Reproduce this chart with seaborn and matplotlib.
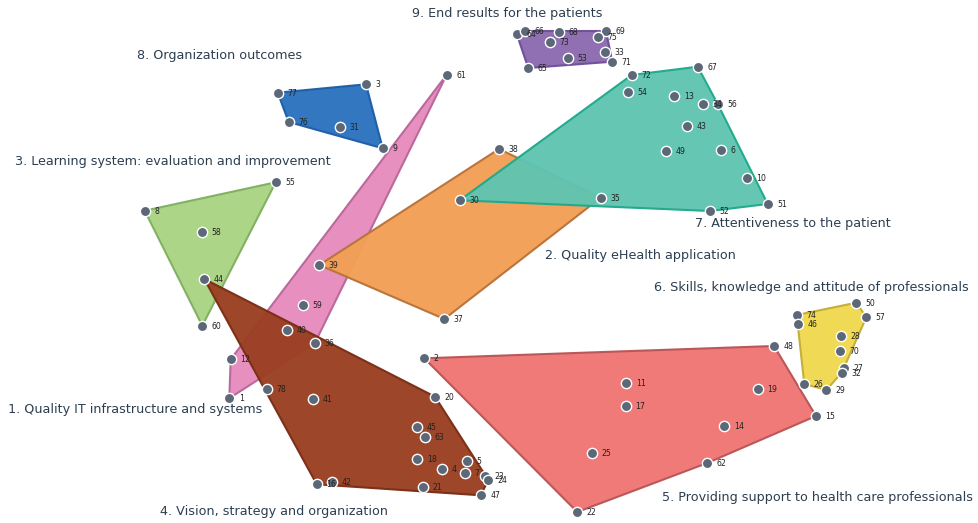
import numpy as np
import pandas as pd
import seaborn as sns
import matplotlib.pyplot as plt
from matplotlib.patches import Polygon

# coordenadas de cada enunciado (espacio de la imagen, y hacia abajo)
ids_c1 = [61, 59, 40, 36, 12, 1]
x_c1 = [446.7, 302.7, 287.0, 314.7, 230.7, 229.3]
y_c1 = [74.7, 304.7, 330.0, 343.3, 359.3, 398.3]

ids_c2 = [38, 35, 37, 39]
x_c2 = [499.0, 600.7, 444.3, 319.3]
y_c2 = [149.0, 197.7, 319.0, 265.0]

ids_c3 = [8, 55, 58, 60]
x_c3 = [144.7, 275.7, 202.3, 202.3]
y_c3 = [210.7, 182.3, 232.0, 325.7]

ids_c4 = [44, 78, 41, 20, 45, 63, 18, 4, 5, 7, 23, 24, 47, 21, 42, 16]
x_c4 = [204.3, 266.7, 312.7, 435.0, 417.3, 424.7, 417.3, 441.7, 466.7, 464.7, 485.0, 488.3, 480.7, 422.7, 332.0, 316.7]
y_c4 = [279.0, 389.0, 399.3, 396.7, 426.7, 436.7, 459.0, 469.3, 461.3, 472.7, 475.7, 480.0, 495.3, 487.3, 481.7, 484.3]

ids_c5 = [2, 48, 11, 17, 19, 15, 14, 25, 62, 22]
x_c5 = [424.3, 774.0, 626.3, 625.7, 758.0, 816.0, 724.3, 592.0, 707.3, 577.3]
y_c5 = [358.3, 346.0, 382.7, 406.0, 389.3, 416.0, 426.3, 452.7, 463.0, 512.0]

ids_c6 = [50, 57, 74, 46, 28, 70, 27, 32, 26, 29]
x_c6 = [856.3, 866.3, 796.7, 798.0, 841.0, 840.3, 843.7, 841.7, 804.3, 826.3]
y_c6 = [302.7, 317.3, 315.0, 324.0, 336.3, 350.7, 368.3, 372.7, 384.0, 390.0]

ids_c7 = [72, 67, 54, 13, 34, 56, 43, 49, 6, 10, 51, 52, 30]
x_c7 = [631.7, 697.7, 628.0, 674.3, 703.0, 717.7, 686.7, 666.3, 721.0, 747.0, 767.7, 710.0, 459.7]
y_c7 = [75.0, 66.7, 92.3, 96.0, 104.0, 104.0, 125.7, 151.3, 149.7, 178.3, 204.0, 211.0, 200.3]

ids_c8 = [77, 3, 76, 31, 9]
x_c8 = [277.7, 366.0, 288.7, 339.7, 382.7]
y_c8 = [92.7, 84.3, 122.0, 126.7, 148.3]

ids_c9 = [64, 66, 68, 69, 75, 73, 33, 53, 71, 65]
x_c9 = [516.7, 525.0, 559.0, 606.0, 597.7, 550.0, 605.0, 568.3, 612.3, 528.3]
y_c9 = [34.0, 31.0, 31.7, 31.0, 37.3, 42.3, 52.3, 57.7, 61.7, 68.0]

nombres = {
    1: "1. Quality IT infrastructure and systems",
    2: "2. Quality eHealth application",
    3: "3. Learning system: evaluation and improvement",
    4: "4. Vision, strategy and organization",
    5: "5. Providing support to health care professionals",
    6: "6. Skills, knowledge and attitude of professionals",
    7: "7. Attentiveness to the patient",
    8: "8. Organization outcomes",
    9: "9. End results for the patients",
}

# posicion (izquierda, centro vertical) de cada titulo de cluster
pos_nombre = {1: (8, 409), 2: (545, 255), 3: (15, 162), 4: (160, 512), 5: (662, 497),
              6: (654, 287), 7: (695, 223), 8: (137, 56), 9: (412, 14)}

relleno = {1: "#e78bbd", 2: "#f29f55", 3: "#abd483", 4: "#9b4023", 5: "#f07674",
           6: "#f0d94f", 7: "#5fc4b1", 8: "#2b73bd", 9: "#8c6bb1"}
borde = {1: "#b8679a", 2: "#b8733a", 3: "#7fb060", 4: "#7a2e15", 5: "#b85556",
         6: "#c4ad35", 7: "#20a98c", 8: "#1d5ea8", 9: "#6e4f99"}

grupos = {1: (ids_c1, x_c1, y_c1), 2: (ids_c2, x_c2, y_c2), 3: (ids_c3, x_c3, y_c3),
          4: (ids_c4, x_c4, y_c4), 5: (ids_c5, x_c5, y_c5), 6: (ids_c6, x_c6, y_c6),
          7: (ids_c7, x_c7, y_c7), 8: (ids_c8, x_c8, y_c8), 9: (ids_c9, x_c9, y_c9)}

filas = []
for c, (ids, xs, ys) in grupos.items():
    for i, x, y in zip(ids, xs, ys):
        filas.append({"id": i, "x": x, "y": y, "cluster": c})
df = pd.DataFrame(filas)


def casco(pts):
    # envolvente convexa (monotone chain)
    pts = sorted(set(pts))
    def cruz(o, a, b):
        return (a[0]-o[0])*(b[1]-o[1]) - (a[1]-o[1])*(b[0]-o[0])
    abajo, arriba = [], []
    for p in pts:
        while len(abajo) >= 2 and cruz(abajo[-2], abajo[-1], p) <= 0:
            abajo.pop()
        abajo.append(p)
    for p in reversed(pts):
        while len(arriba) >= 2 and cruz(arriba[-2], arriba[-1], p) <= 0:
            arriba.pop()
        arriba.append(p)
    return abajo[:-1] + arriba[:-1]


sns.set_style("white")
plt.rcParams['font.family'] = ['DejaVu Sans']
fig = plt.figure(figsize=(9.79, 5.23), dpi=100)
ax = fig.add_axes([0, 0, 1, 1])

orden = [1, 3, 8, 2, 7, 4, 5, 6, 9]
for c in orden:
    sub = df[df.cluster == c]
    h = casco(list(zip(sub.x, sub.y)))
    ax.add_patch(Polygon(h, closed=True, facecolor=relleno[c], edgecolor=borde[c],
                         linewidth=1.5, alpha=0.97, zorder=1 + orden.index(c) * 0.1))

sns.scatterplot(data=df, x="x", y="y", color="#5c6878", s=55, edgecolor="white",
                linewidth=1.0, ax=ax, zorder=5, legend=False)

for _, r in df.iterrows():
    ax.text(r.x + 9.5, r.y + 0.5, str(int(r.id)), fontsize=5.6, color="#222222",
            va="center", ha="left", zorder=6)

for c, (tx, ty) in pos_nombre.items():
    ax.text(tx, ty, nombres[c], fontsize=9.2, color="#2c3e50", va="center", ha="left", zorder=7)

ax.set_xlim(0, 979)
ax.set_ylim(523, 0)
ax.axis("off")
fig.savefig("out.png", dpi=100)
